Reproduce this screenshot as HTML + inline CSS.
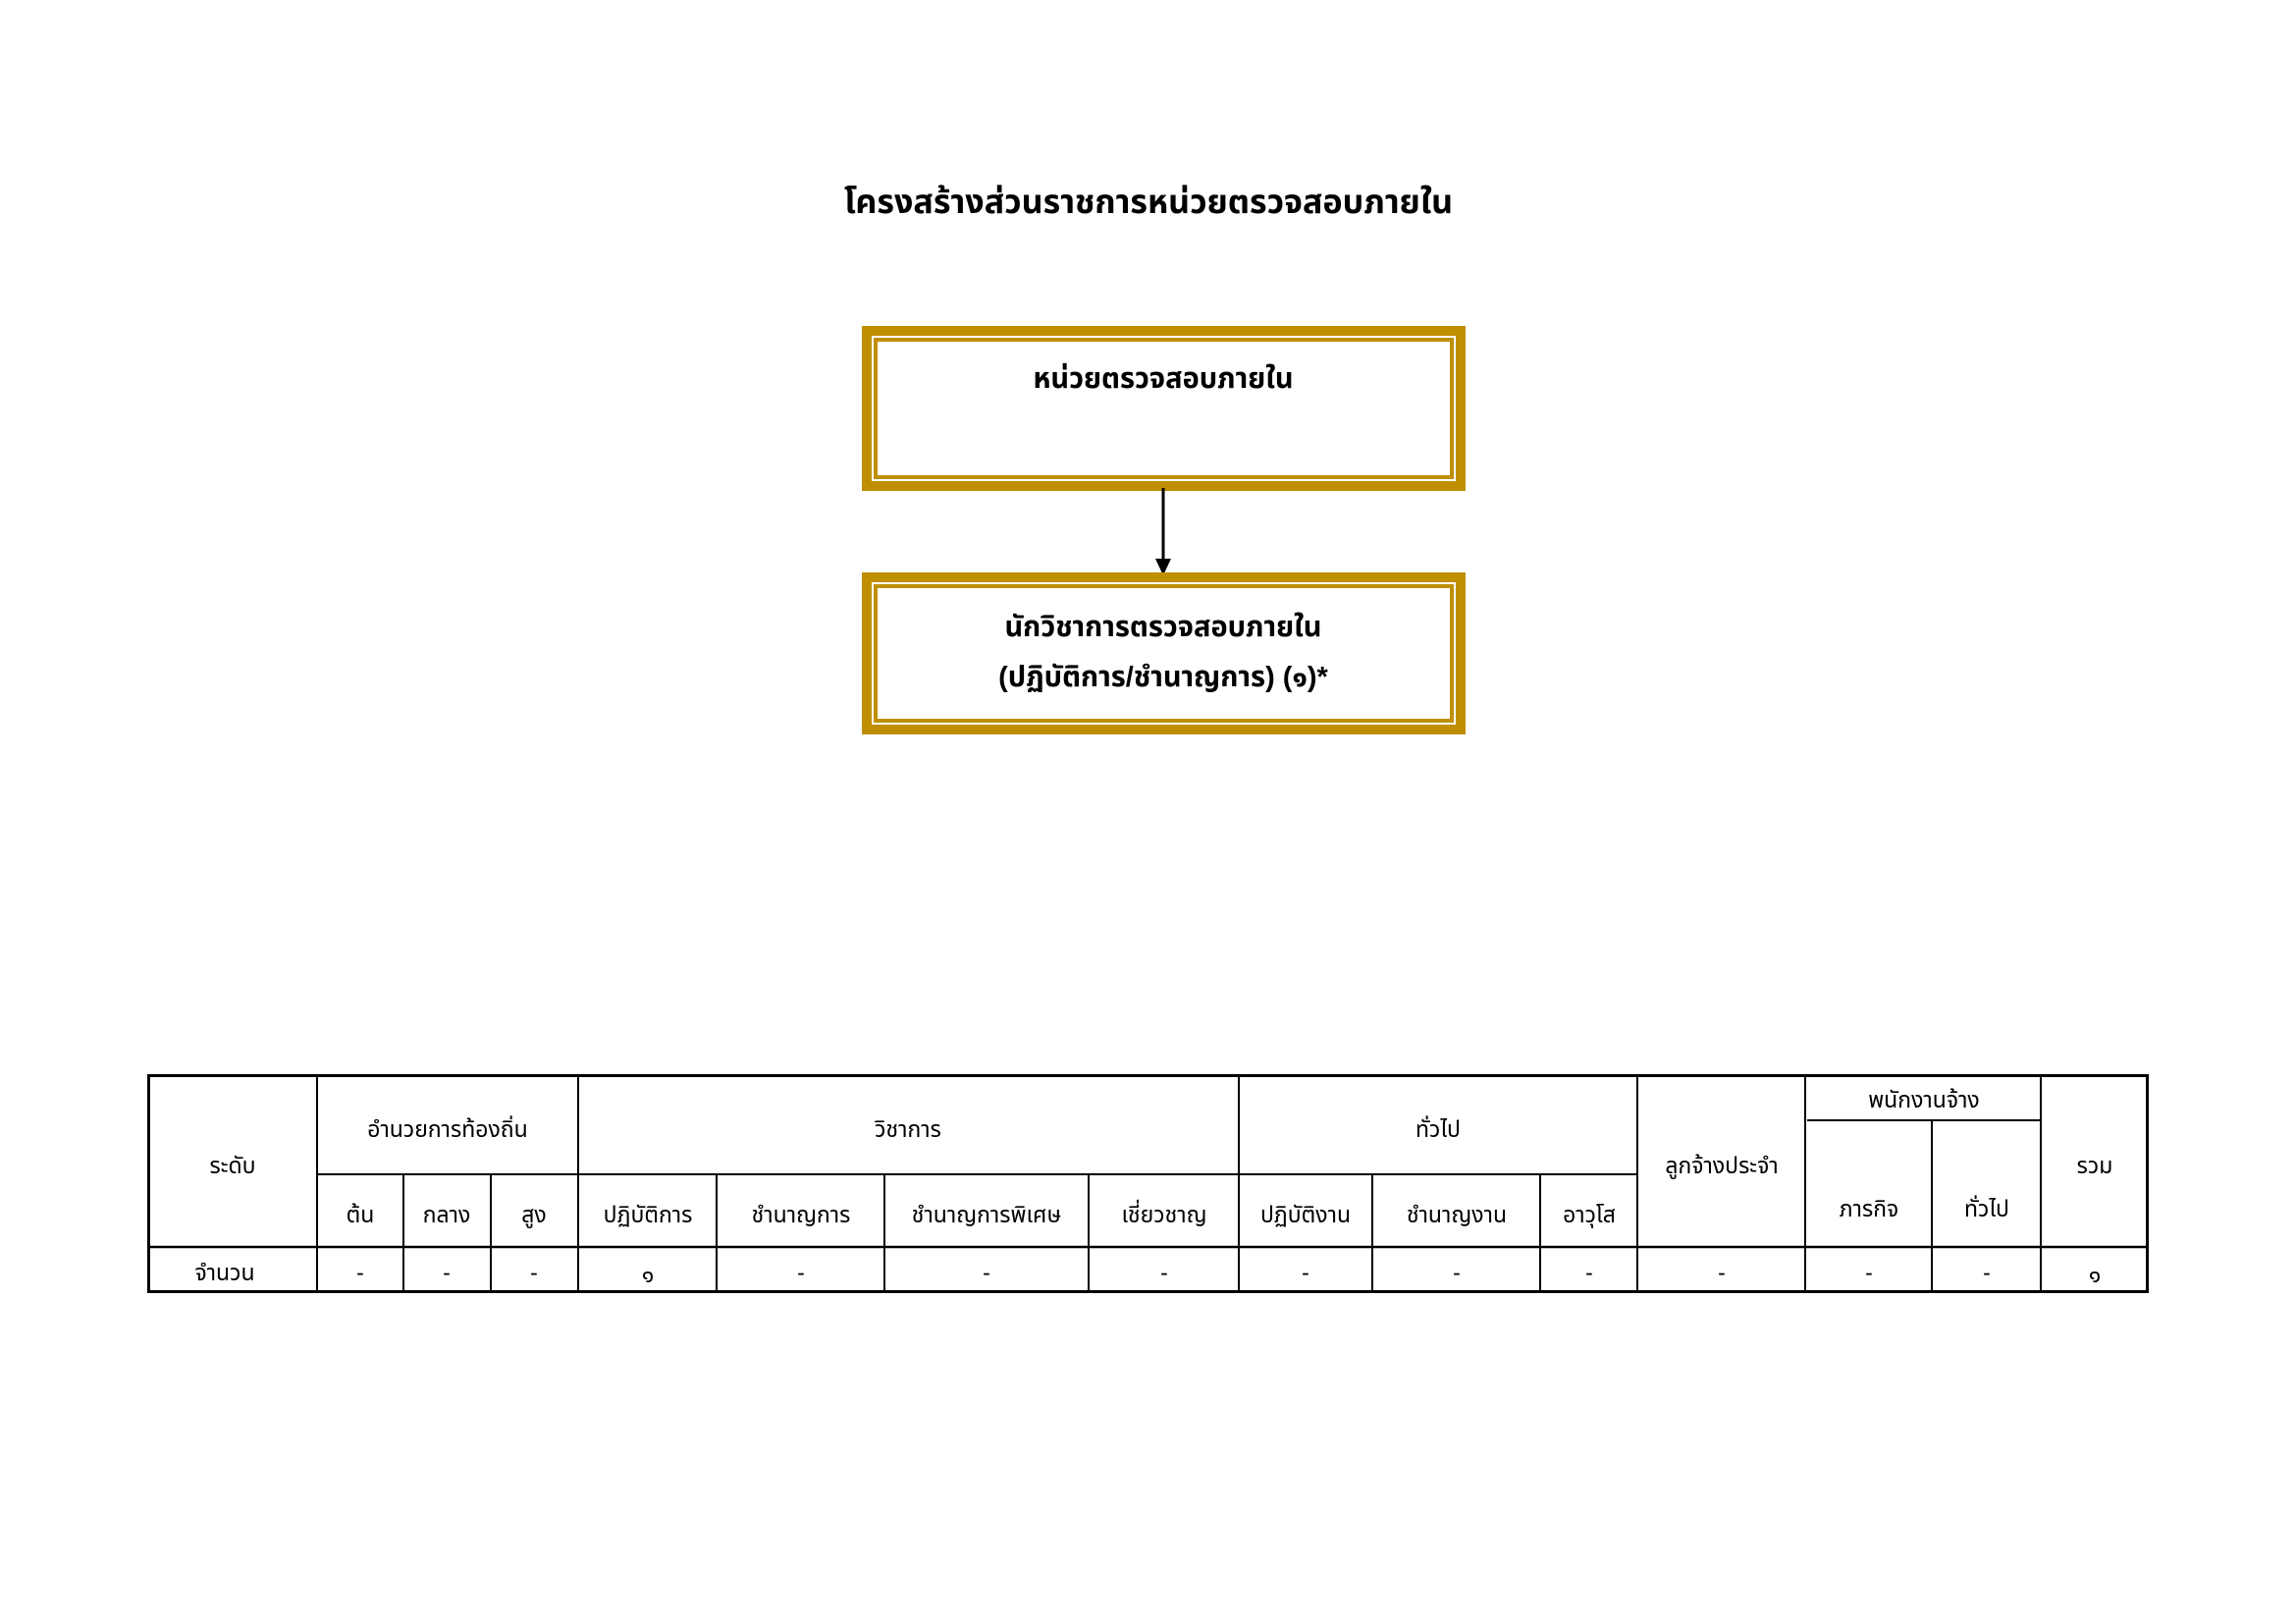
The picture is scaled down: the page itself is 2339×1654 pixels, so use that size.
<!DOCTYPE html>
<html><head><meta charset="utf-8"><style>
html,body{margin:0;padding:0;background:#fff;}
svg{display:block;}
text{font-family:"Liberation Sans","Noto Sans Thai","Loma","Garuda",sans-serif;fill:#000;}
.t{font-size:23px;text-anchor:middle;}
.b{font-size:29px;font-weight:bold;text-anchor:middle;}
</style></head><body>
<svg width="2339" height="1654" viewBox="0 0 2339 1654" xmlns="http://www.w3.org/2000/svg">
<text x="1170" y="217" style="font-size:34px;font-weight:bold;text-anchor:middle">โครงสร้างส่วนราชการหน่วยตรวจสอบภายใน</text>
<!-- box1 -->
<rect x="883" y="337" width="605" height="158" fill="none" stroke="#BF8F00" stroke-width="10"/>
<rect x="892" y="346" width="587" height="140" fill="none" stroke="#BF8F00" stroke-width="4"/>
<text class="b" x="1185" y="395">หน่วยตรวจสอบภายใน</text>
<!-- arrow -->
<line x1="1185" y1="497" x2="1185" y2="572" stroke="#000" stroke-width="3"/>
<polygon points="1177,569 1193,569 1185,586" fill="#000"/>
<!-- box2 -->
<rect x="883" y="588" width="605" height="155" fill="none" stroke="#BF8F00" stroke-width="10"/>
<rect x="892" y="597" width="587" height="137" fill="none" stroke="#BF8F00" stroke-width="4"/>
<text class="b" x="1185" y="648">นักวิชาการตรวจสอบภายใน</text>
<text class="b" x="1185" y="699">(ปฏิบัติการ/ชำนาญการ) (๑)*</text>
<!-- table -->
<g stroke="#000" fill="none">
<rect x="151.5" y="1095.5" width="2036" height="220" stroke-width="3"/>
<line x1="151" y1="1270" x2="2188" y2="1270" stroke-width="2.5"/>
<line x1="323" y1="1196" x2="1668" y2="1196" stroke-width="2"/>
<line x1="1841" y1="1141" x2="2079" y2="1141" stroke-width="2"/>
<g stroke-width="2">
<line x1="323" y1="1095" x2="323" y2="1315"/>
<line x1="589" y1="1095" x2="589" y2="1315"/>
<line x1="1262" y1="1095" x2="1262" y2="1315"/>
<line x1="1668" y1="1095" x2="1668" y2="1315"/>
<line x1="1839" y1="1095" x2="1839" y2="1315"/>
<line x1="2079" y1="1095" x2="2079" y2="1315"/>
<line x1="411" y1="1196" x2="411" y2="1315"/>
<line x1="500" y1="1196" x2="500" y2="1315"/>
<line x1="730" y1="1196" x2="730" y2="1315"/>
<line x1="901" y1="1196" x2="901" y2="1315"/>
<line x1="1109" y1="1196" x2="1109" y2="1315"/>
<line x1="1398" y1="1196" x2="1398" y2="1315"/>
<line x1="1569" y1="1196" x2="1569" y2="1315"/>
<line x1="1968" y1="1141" x2="1968" y2="1315"/>
</g>
</g>
<g class="t">
<text class="t" x="237" y="1195">ระดับ</text>
<text class="t" x="456" y="1158">อำนวยการท้องถิ่น</text>
<text class="t" x="925" y="1158">วิชาการ</text>
<text class="t" x="1465" y="1158">ทั่วไป</text>
<text class="t" x="1754" y="1195">ลูกจ้างประจำ</text>
<text class="t" x="1960" y="1128">พนักงานจ้าง</text>
<text class="t" x="2134" y="1195">รวม</text>
<text class="t" x="367" y="1245">ต้น</text>
<text class="t" x="455" y="1245">กลาง</text>
<text class="t" x="544" y="1245">สูง</text>
<text class="t" x="660" y="1245">ปฏิบัติการ</text>
<text class="t" x="816" y="1245">ชำนาญการ</text>
<text class="t" x="1005" y="1245">ชำนาญการพิเศษ</text>
<text class="t" x="1186" y="1245">เชี่ยวชาญ</text>
<text class="t" x="1330" y="1245">ปฏิบัติงาน</text>
<text class="t" x="1484" y="1245">ชำนาญงาน</text>
<text class="t" x="1619" y="1245">อาวุโส</text>
<text class="t" x="1904" y="1239">ภารกิจ</text>
<text class="t" x="2024" y="1239">ทั่วไป</text>
<text class="t" x="229" y="1304">จำนวน</text>
<text class="t" x="367" y="1304">-</text>
<text class="t" x="455" y="1304">-</text>
<text class="t" x="544" y="1304">-</text>
<text class="t" x="660" y="1306">๑</text>
<text class="t" x="816" y="1304">-</text>
<text class="t" x="1005" y="1304">-</text>
<text class="t" x="1186" y="1304">-</text>
<text class="t" x="1330" y="1304">-</text>
<text class="t" x="1484" y="1304">-</text>
<text class="t" x="1619" y="1304">-</text>
<text class="t" x="1754" y="1304">-</text>
<text class="t" x="1904" y="1304">-</text>
<text class="t" x="2024" y="1304">-</text>
<text class="t" x="2134" y="1306">๑</text>
</g>
</svg>
</body></html>
